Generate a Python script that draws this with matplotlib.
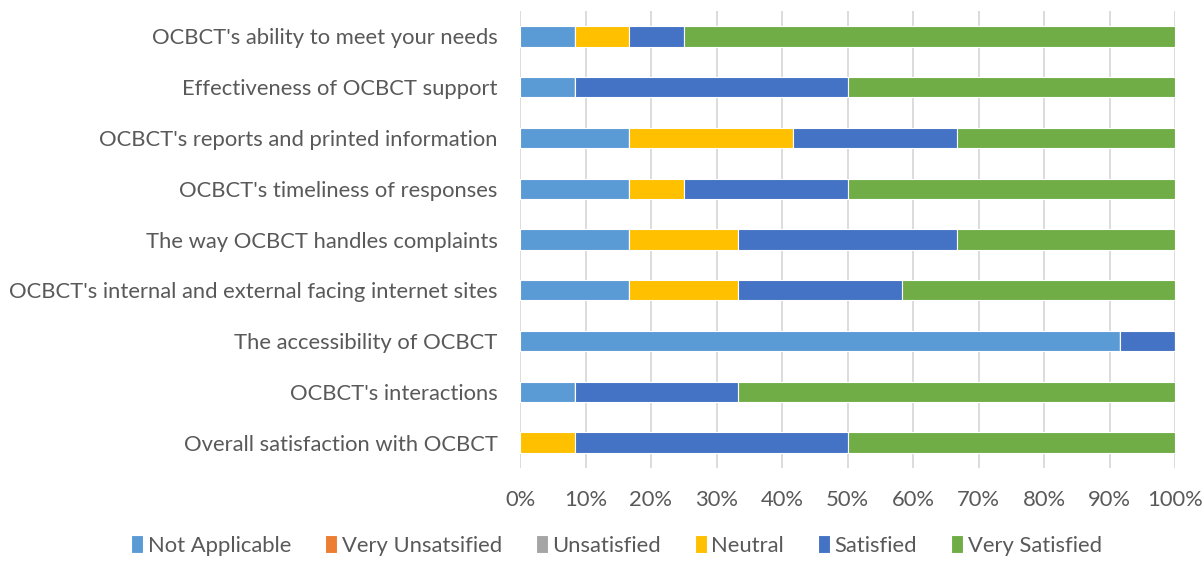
import matplotlib
matplotlib.use("Agg")
import matplotlib.pyplot as plt
import numpy as np

categories = [
    "OCBCT's ability to meet your needs",
    "Effectiveness of OCBCT support",
    "OCBCT's reports and printed information",
    "OCBCT's timeliness of responses",
    "The way OCBCT handles complaints",
    "OCBCT's internal and external facing internet sites",
    "The accessibility of OCBCT",
    "OCBCT's interactions",
    "Overall satisfaction with OCBCT",
]
series_names = ["Not Applicable", "Very Unsatsified", "Unsatisfied", "Neutral", "Satisfied", "Very Satisfied"]
not_applicable = [8.33, 8.33, 16.67, 16.67, 16.67, 16.67, 91.67, 8.33, 0]
very_unsatisfied = [0, 0, 0, 0, 0, 0, 0, 0, 0]
unsatisfied = [0, 0, 0, 0, 0, 0, 0, 0, 0]
neutral = [8.33, 0, 25.0, 8.33, 16.67, 16.67, 0, 0, 8.33]
satisfied = [8.33, 41.67, 25.0, 25.0, 33.33, 25.0, 8.33, 25.0, 41.67]
very_satisfied = [75.0, 50.0, 33.33, 50.0, 33.33, 41.67, 0, 66.67, 50.0]
colors = ["#5B9BD5", "#ED7D31", "#A5A5A5", "#FFC000", "#4472C4", "#70AD47"]

plt.rcParams['font.family'] = ['Lato', 'DejaVu Sans']
fig = plt.figure(figsize=(12.04, 5.63), dpi=100)
ax = fig.add_axes([520/1204, 1-468/563, 655/1204, 457/563])

data = [not_applicable, very_unsatisfied, unsatisfied, neutral, satisfied, very_satisfied]
y = np.arange(len(categories))[::-1]
left = np.zeros(len(categories))
for name, vals, c in zip(series_names, data, colors):
    vals = np.array(vals, dtype=float)
    ax.barh(y, vals, left=left, height=0.4, color=c, label=name, edgecolor='white', linewidth=0.8)
    left += vals

ax.set_xlim(0, 100)
ax.set_ylim(-0.5, len(categories)-0.5)
ax.set_yticks(y)
ax.set_yticklabels(categories)
ax.set_xticks(np.arange(0, 101, 10))
ax.set_xticklabels([f"{v}%" for v in range(0, 101, 10)])
for s in ax.spines.values():
    s.set_visible(False)
ax.grid(axis='x', color='#D9D9D9', linewidth=1.3)
ax.set_axisbelow(True)
ax.tick_params(axis='both', length=0, labelsize=15.8, colors='#595959')
ax.tick_params(axis='y', pad=16)
ax.tick_params(axis='x', pad=16)

leg = fig.legend(loc='lower center', bbox_to_anchor=(0.512, -0.022), ncol=6, frameon=False,
                 fontsize=15.8, handlelength=0.55, handleheight=0.9, handletextpad=0.2, columnspacing=1.55)
for t in leg.get_texts():
    t.set_color('#595959')

fig.savefig("out.png", dpi=100)
